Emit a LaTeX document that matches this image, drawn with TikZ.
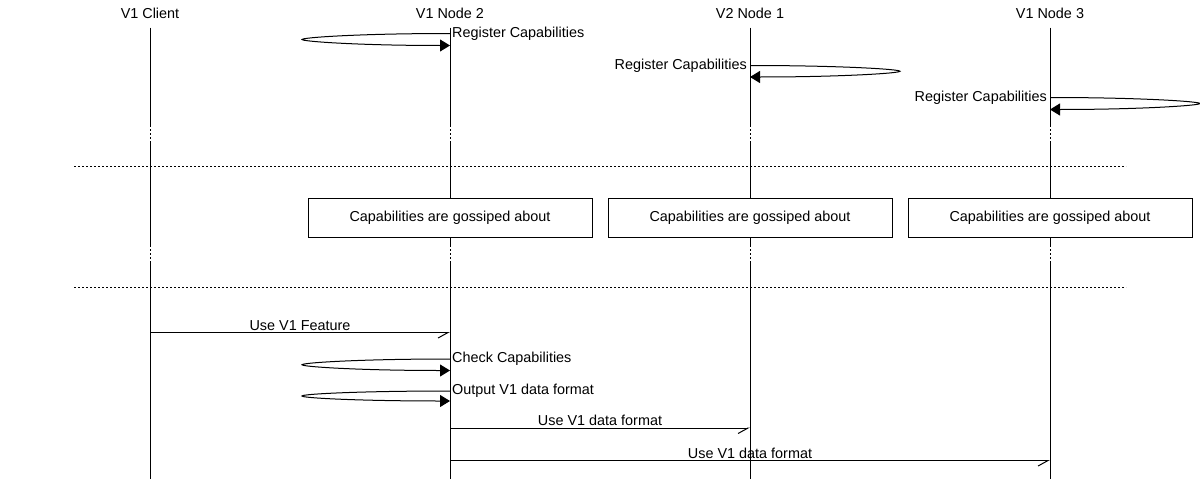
\documentclass[tikz,border=0pt]{standalone}
\usepackage{fontspec}
\setmainfont{Liberation Sans}
\usetikzlibrary{arrows.meta, positioning}

\begin{document}
\begin{tikzpicture}[
                  x = 1pt, y = -1pt,
                  font    = \fontsize{14.4}{17}\selectfont,
                  ent/.style  = {anchor=base, inner sep=0pt},
                  lbl/.style  = {anchor=base west, inner sep=0pt},
                  rlbl/.style = {anchor=base east, inner sep=0pt},
                  mlbl/.style = {anchor=base, inner sep=0pt, yshift=2.5pt},
                  gbox/.style = {draw, fill=white, line width=1pt, inner sep=0pt,
                                 minimum width=284pt, minimum height=39pt},
                  life/.style = {line width=1pt},
                  dlife/.style = {line width=1pt, dash pattern=on 2pt off 2pt},
                  sep/.style  = {line width=1pt, dash pattern=on 2pt off 2pt},
                  msg/.style  = {-{Straight Barb[right, length=10pt, width=11pt]}, line width=1pt},
                  self/.style = {-{Triangle[length=10pt, width=12pt]}, line width=1pt}
            ]
            \useasboundingbox (0,0) rectangle (1200,479);

            % entities and their lifelines (dotted where the diagram is cut)
            \foreach \n/\x/\t in {cl/150/V1 Client, nb/450/V1 Node 2, na/750/V2 Node 1, nc/1050/V1 Node 3} {
                  \node[ent] (\n) at (\x,19) {\t};
                  \draw[life]  (\x,27.5) -- (\x,125);
                  \draw[dlife] (\x,125) -- (\x,142);
                  \draw[life]  (\x,142) -- (\x,245);
                  \draw[dlife] (\x,245) -- (\x,263);
                  \draw[life]  (\x,263) -- (\x,479);
            }

            % register capabilities (self messages, thin flat loops)
            \coordinate (nb-reg) at (450,33.5);
            \coordinate (na-reg) at (750,65.5);
            \coordinate (nc-reg) at (1050,97.5);
            \draw[self] (nb-reg) .. controls +(-90,0) and +(0,-2) .. ++(-148,6)
                                 .. controls +(0,2) and +(-90,0) .. ++(148,6);
            \draw[self] (na-reg) .. controls +(90,0) and +(0,-2) .. ++(150,5.75)
                                 .. controls +(0,2) and +(90,0) .. ++(-150,5.75);
            \draw[self] (nc-reg) .. controls +(90,0) and +(0,-2) .. ++(150,6)
                                 .. controls +(0,2) and +(90,0) .. ++(-150,6);
            \node[lbl]  (nb-reg-t) at (452,37)  {Register Capabilities};
            \node[rlbl] (na-reg-t) at (747,69.5)  {Register Capabilities};
            \node[rlbl] (nc-reg-t) at (1047,101.5) {Register Capabilities};

            % cuts
            \coordinate (cut1-l) at (74,166.5);  \coordinate (cut1-r) at (1126,166.5);
            \coordinate (cut2-l) at (74,287.5);  \coordinate (cut2-r) at (1126,287.5);
            \draw[sep] (cut1-l) -- (cut1-r);
            \draw[sep] (cut2-l) -- (cut2-r);

            % gossip boxes
            \node[gbox] (gb) at (450,217.5)  {Capabilities are gossiped about};
            \node[gbox] (ga) at (750,217.5)  {Capabilities are gossiped about};
            \node[gbox] (gc) at (1050,217.5) {Capabilities are gossiped about};

            % use of the V1 feature
            \coordinate (cl-use) at (150,332.5);
            \coordinate (nb-use) at (450,332.5);
            \draw[msg] (cl-use) -- node[mlbl] (use-t) {Use V1 Feature} (nb-use);

            \coordinate (nb-chk) at (450,359);
            \coordinate (nb-out) at (450,391);
            \draw[self] (nb-chk) .. controls +(-90,0) and +(0,-2) .. ++(-148,5.75)
                                 .. controls +(0,2) and +(-90,0) .. ++(148,5.75);
            \draw[self] (nb-out) .. controls +(-90,0) and +(0,-2) .. ++(-148,5)
                                 .. controls +(0,2) and +(-90,0) .. ++(148,5);
            \node[lbl] (chk-t) at (452,362) {Check Capabilities};
            \node[lbl] (out-t) at (452,394) {Output V1 data format};

            \coordinate (nb-fa) at (450,428);
            \coordinate (na-fa) at (750,428);
            \coordinate (nb-fc) at (450,460.5);
            \coordinate (nc-fc) at (1050,460.5);
            \draw[msg] (nb-fa) -- node[mlbl] (fa-t) {Use V1 data format} (na-fa);
            \draw[msg] (nb-fc) -- node[mlbl] (fc-t) {Use V1 data format} (nc-fc);
\end{tikzpicture}
\end{document}
